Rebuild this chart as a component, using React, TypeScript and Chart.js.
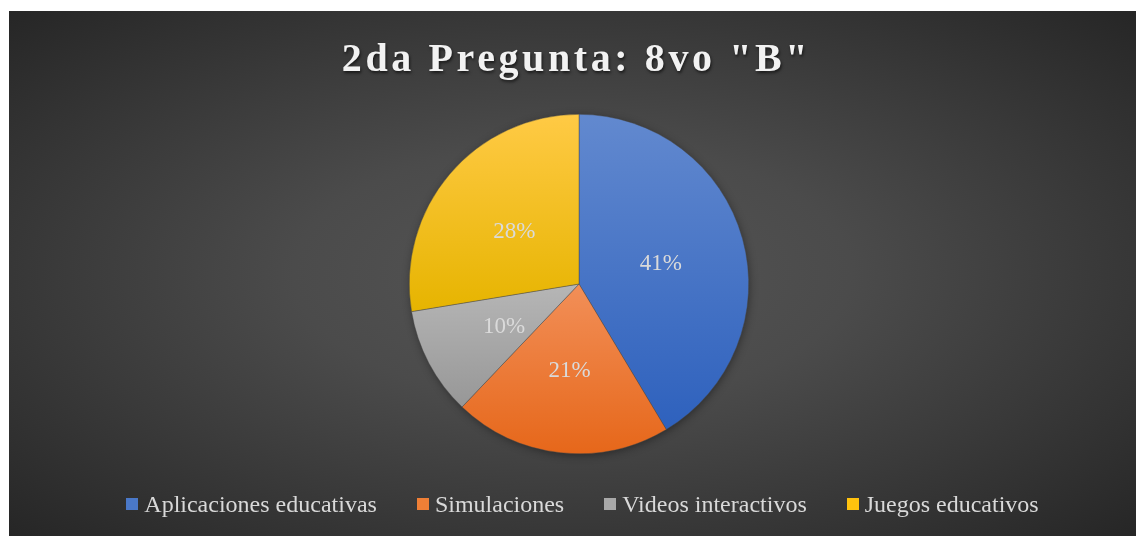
import React, { useEffect, useRef } from "react";
import { Chart, registerables } from "chart.js";

Chart.register(...registerables);

const TITLE = '2da Pregunta: 8vo "B"';
const LABELS = [
  "Aplicaciones educativas",
  "Simulaciones",
  "Videos interactivos",
  "Juegos educativos",
];
const VALUES = [41.4, 20.7, 10.3, 27.6];

const TOP_COLORS = ["#6289cf", "#f28f58", "#b6b6b6", "#ffca45"];
const BOTTOM_COLORS = ["#2e61bd", "#e6671a", "#979797", "#e6b400"];
const SWATCH = ["#4a78c8", "#ef7f36", "#a9a9a9", "#ffc20e"];

const gradientPlugin = {
  id: "sliceGradient",
  beforeDatasetDraw(chart: any, args: any) {
    const ctx = chart.ctx;
    const meta = args.meta;
    meta.data.forEach((arc: any, i: number) => {
      const r = arc.outerRadius;
      const cy = arc.y;
      const s = arc.startAngle;
      const e = arc.endAngle;
      const ys = [cy, cy + r * Math.sin(s), cy + r * Math.sin(e)];
      [-Math.PI / 2, Math.PI / 2, (3 * Math.PI) / 2].forEach((a) => {
        if (a >= s && a <= e) ys.push(cy + r * Math.sin(a));
      });
      const ymin = Math.min(...ys);
      const ymax = Math.max(...ys);
      const g = ctx.createLinearGradient(0, ymin, 0, ymax);
      g.addColorStop(0, TOP_COLORS[i]);
      g.addColorStop(1, BOTTOM_COLORS[i]);
      arc.options = Object.assign({}, arc.options, { backgroundColor: g });
    });
    const first = meta.data[0];
    if (first) {
      ctx.save();
      ctx.shadowColor = "rgba(0,0,0,0.45)";
      ctx.shadowBlur = 10;
      ctx.shadowOffsetX = 1;
      ctx.shadowOffsetY = 2;
      ctx.fillStyle = "#444";
      ctx.beginPath();
      ctx.arc(first.x, first.y, first.outerRadius - 1, 0, Math.PI * 2);
      ctx.fill();
      ctx.restore();
    }
  },
};

const labelPlugin = {
  id: "sliceLabels",
  afterDatasetsDraw(chart: any) {
    const ctx = chart.ctx;
    const meta = chart.getDatasetMeta(0);
    const data = chart.data.datasets[0].data as number[];
    const total = data.reduce((a, b) => a + b, 0);
    ctx.save();
    ctx.font = '23px "Liberation Serif", "Times New Roman", serif';
    ctx.fillStyle = "#dadada";
    ctx.textAlign = "center";
    ctx.textBaseline = "middle";
    meta.data.forEach((arc: any, i: number) => {
      const p = arc.tooltipPosition();
      const txt = Math.round((data[i] / total) * 100) + "%";
      ctx.fillText(txt, p.x, p.y + 3);
    });
    ctx.restore();
  },
};

export default function App() {
  const canvasRef = useRef<HTMLCanvasElement | null>(null);

  useEffect(() => {
    if (!canvasRef.current) return;
    const chart = new Chart(canvasRef.current, {
      type: "pie",
      data: {
        labels: LABELS,
        datasets: [
          {
            data: VALUES,
            backgroundColor: SWATCH,
            borderColor: "rgba(70,70,70,0.7)",
            borderWidth: 0.6,
          },
        ],
      },
      options: {
        animation: false,
        responsive: true,
        maintainAspectRatio: false,
        devicePixelRatio: 1,
        layout: { padding: { top: 103, bottom: 82, left: 13, right: 0 } },
        plugins: {
          legend: { display: false },
          title: { display: false },
          tooltip: { enabled: false },
        },
      },
      plugins: [gradientPlugin, labelPlugin],
    });
    return () => chart.destroy();
  }, []);

  return (
    <div
      style={{
        position: "fixed",
        left: 9,
        top: 11,
        width: 1127,
        height: 525,
        overflow: "hidden",
        background:
          "radial-gradient(ellipse farthest-corner at 50% 50%, #555555 0%, #4b4b4b 35%, #3a3a3a 65%, #262626 100%)",
      }}
    >
      <div
        style={{
          position: "absolute",
          left: 0,
          top: 27,
          width: "100%",
          paddingLeft: 8,
          boxSizing: "border-box",
          textAlign: "center",
          font: 'bold 40px/40px "Liberation Serif", "Times New Roman", serif',
          letterSpacing: "3.6px",
          color: "#f2f2f2",
          textShadow: "1px 2px 3px rgba(0,0,0,0.6)",
          whiteSpace: "nowrap",
        }}
      >
        {TITLE}
      </div>
      <div style={{ position: "absolute", left: 0, top: 0, width: 1127, height: 525 }}>
        <canvas ref={canvasRef} />
      </div>
      <div
        style={{
          position: "absolute",
          left: 0,
          top: 481,
          width: "100%",
          paddingLeft: 20,
          boxSizing: "border-box",
          display: "flex",
          justifyContent: "center",
          gap: 40,
          font: '24px/24px "Liberation Serif", "Times New Roman", serif',
          color: "#d9d9d9",
          whiteSpace: "nowrap",
        }}
      >
        {LABELS.map((l, i) => (
          <div key={l} style={{ display: "flex", alignItems: "flex-start" }}>
            <span
              style={{
                display: "inline-block",
                width: 12,
                height: 12,
                marginTop: 6,
                marginRight: 6,
                background: SWATCH[i],
              }}
            />
            <span>{l}</span>
          </div>
        ))}
      </div>
    </div>
  );
}
